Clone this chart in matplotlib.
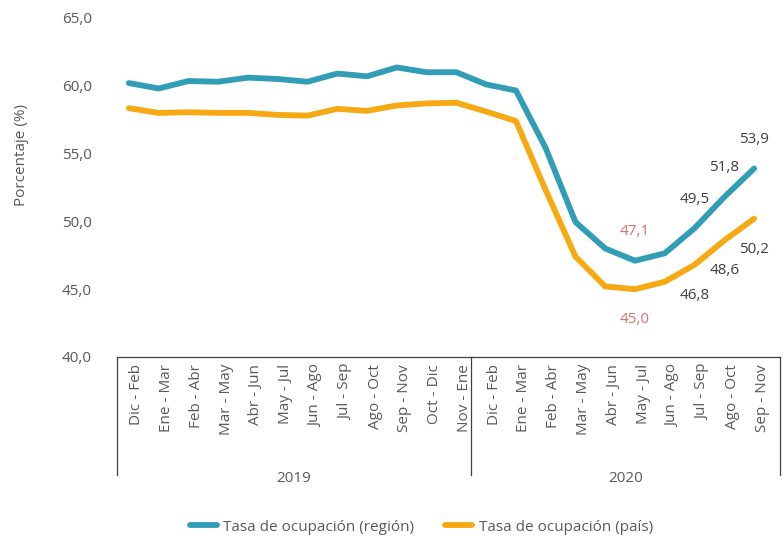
import matplotlib
matplotlib.use("Agg")
import matplotlib.pyplot as plt
import matplotlib.transforms as mtransforms
from matplotlib.ticker import FuncFormatter

plt.rcParams['font.family'] = ['Open Sans', 'DejaVu Sans']

periodos = ["Dic - Feb", "Ene - Mar", "Feb - Abr", "Mar - May", "Abr - Jun",
            "May - Jul", "Jun - Ago", "Jul - Sep", "Ago - Oct", "Sep - Nov",
            "Oct - Dic", "Nov - Ene",
            "Dic - Feb", "Ene - Mar", "Feb - Abr", "Mar - May", "Abr - Jun",
            "May - Jul", "Jun - Ago", "Jul - Sep", "Ago - Oct", "Sep - Nov"]
anios = ["2019", "2020"]
n_2019 = 12

region = [60.2, 59.8, 60.35, 60.3, 60.6, 60.5, 60.3, 60.9, 60.7, 61.35, 61.0, 61.0,
          60.1, 59.65, 55.4, 49.95, 48.0, 47.1, 47.65, 49.5, 51.8, 53.9]
pais = [58.35, 58.0, 58.05, 58.0, 58.0, 57.85, 57.8, 58.3, 58.15, 58.55, 58.7, 58.75,
        58.1, 57.4, 52.3, 47.4, 45.2, 45.0, 45.55, 46.8, 48.6, 50.2]

# etiquetas de datos: (indice, valor)
etq_region = [(17, 47.1), (19, 49.5), (20, 51.8), (21, 53.9)]
etq_pais = [(17, 45.0), (19, 46.8), (20, 48.6), (21, 50.2)]

azul = "#329db6"
naranja = "#f6a913"
gris = "#595959"
rojo = "#e07070"

fig = plt.figure(figsize=(7.83, 5.4), dpi=100)
ax = fig.add_axes([0.1494, 0.3389, 0.8468, 0.6278])

x = list(range(len(periodos)))
ax.plot(x, region, color=azul, lw=4.2, solid_capstyle='round', solid_joinstyle='round',
        label="Tasa de ocupación (región)")
ax.plot(x, pais, color=naranja, lw=4.2, solid_capstyle='round', solid_joinstyle='round',
        label="Tasa de ocupación (país)")

for i, v in etq_region:
    c = rojo if i == 17 else "#404040"
    ax.annotate(f"{v:.1f}".replace(".", ","), (i, region[i]), xytext=(0, 21),
                textcoords="offset points", ha="center", va="center", fontsize=11, color=c)
for i, v in etq_pais:
    c = rojo if i == 17 else "#404040"
    ax.annotate(f"{v:.1f}".replace(".", ","), (i, pais[i]), xytext=(0, -22),
                textcoords="offset points", ha="center", va="center", fontsize=11, color=c)

x_izq, x_der = -0.4, len(periodos) - 0.13
ax.set_xlim(x_izq, x_der)
ax.set_ylim(40, 65)
ax.set_yticks([40, 45, 50, 55, 60, 65])
ax.yaxis.set_major_formatter(FuncFormatter(lambda v, p: f"{v:.1f}".replace(".", ",")))
ax.tick_params(axis='y', length=0, pad=18, labelsize=11, labelcolor=gris)
ax.set_xticks(x)
ax.set_xticklabels(periodos, rotation=90, va="top", ha="center")
ax.tick_params(axis='x', length=0, pad=5, labelsize=11, labelcolor=gris)
desplaza = mtransforms.ScaledTranslation(0.08, 0, fig.dpi_scale_trans)
for lab in ax.get_xticklabels():
    lab.set_transform(lab.get_transform() + desplaza)

for s in ["top", "right", "left"]:
    ax.spines[s].set_visible(False)
ax.spines["bottom"].set_color("#404040")
ax.spines["bottom"].set_linewidth(0.9)

ax.set_ylabel("Porcentaje (%)", fontsize=11, color=gris)
ax.yaxis.set_label_coords(-0.132, 0.596)

# separadores de año y etiquetas de año
trans = mtransforms.blended_transform_factory(ax.transData, ax.transAxes)
seps = [x_izq, n_2019 - 0.5, x_der]
for xs in seps:
    ax.plot([xs, xs], [0, -0.348], transform=trans, clip_on=False, color="#404040", lw=0.9)
for k, anio in enumerate(anios):
    ax.text((seps[k] + seps[k + 1]) / 2, -0.357, anio, transform=trans, ha="center",
            va="center", fontsize=11, color=gris)

fig.legend(loc="center", bbox_to_anchor=(0.538, 0.024), ncol=2, frameon=False,
           fontsize=11, handlelength=1.8, handletextpad=0.4, columnspacing=2.0,
           labelcolor=gris)

fig.savefig("out.png", dpi=100)
